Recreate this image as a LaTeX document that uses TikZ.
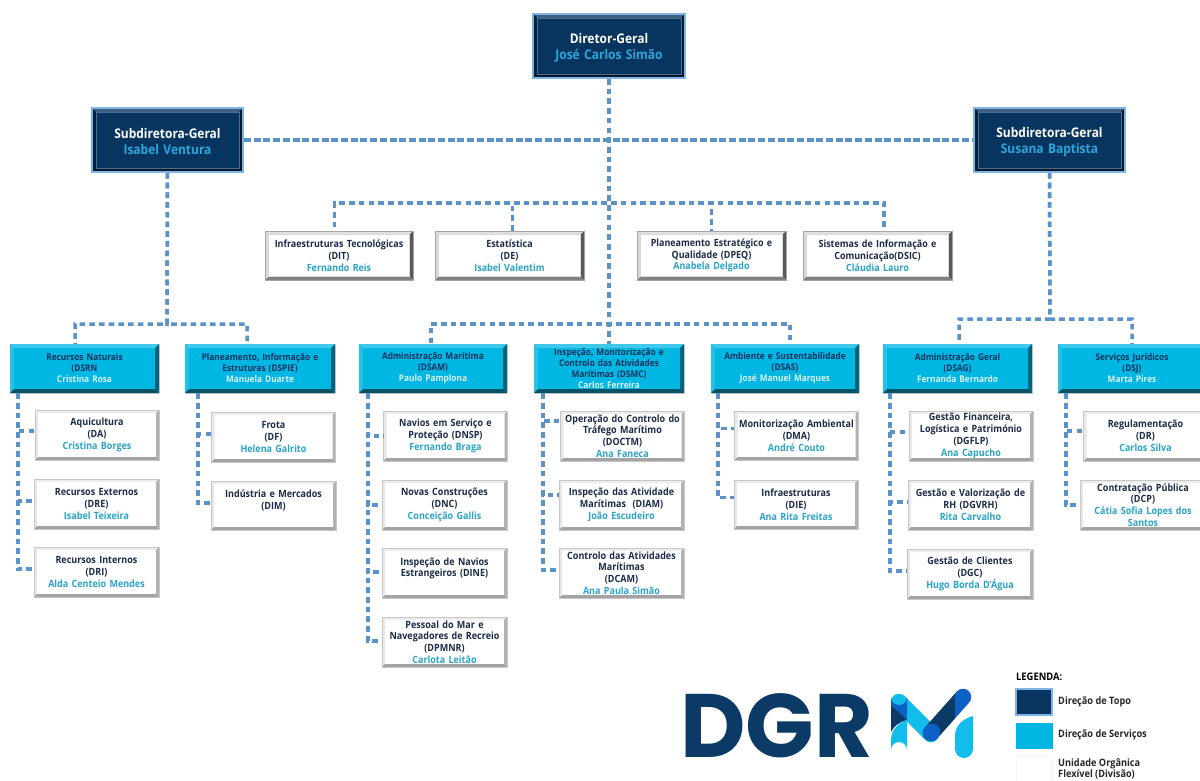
\documentclass[tikz,border=0pt]{standalone}
\usepackage{fontspec}
\setmainfont{Open Sans}[FakeStretch=0.9]
\newfontfamily\logofont{Poppins}
\usetikzlibrary{calc,shadows}
\definecolor{navy}{HTML}{08355F}
\definecolor{navyline}{HTML}{80B4E6}
\definecolor{cyanbox}{HTML}{00B6E3}
\definecolor{connblue}{HTML}{5B93C9}
\definecolor{inktext}{HTML}{1B2B48}
\definecolor{unitname}{HTML}{2AA3C6}
\definecolor{dsname}{HTML}{D8F4FB}
\definecolor{topname}{HTML}{2BA6DC}
\definecolor{logonavy}{HTML}{0B3A66}
\definecolor{logoblue}{HTML}{0B62C4}
\definecolor{logolight}{HTML}{12BDEB}
\newcommand{\bevelpic}[5]{%
  \coordinate (BA) at (path picture bounding box.north west);
  \coordinate (BB) at (path picture bounding box.north east);
  \coordinate (BC) at (path picture bounding box.south east);
  \coordinate (BD) at (path picture bounding box.south west);
  \coordinate (Ba) at ($(BA)+(#1,#1)$);
  \coordinate (Bb) at ($(BB)+(-#1,#1)$);
  \coordinate (Bc) at ($(BC)+(-#1,-#1)$);
  \coordinate (Bd) at ($(BD)+(#1,-#1)$);
  \fill[#2] (BA)--(BB)--(Bb)--(Ba)--cycle;
  \fill[#3] (BA)--(BD)--(Bd)--(Ba)--cycle;
  \fill[#4] (BB)--(BC)--(Bc)--(Bb)--cycle;
  \fill[#5] (BD)--(BC)--(Bc)--(Bd)--cycle;
}
\tikzset{
  x=1pt,y=-1pt,
  boxbase/.style={inner sep=0pt,align=center,text width=132pt},
  topbox/.style={boxbase,fill=navy,draw=navyline,line width=2pt,text=white,
    font=\fontsize{13.3}{16}\selectfont\bfseries,
    path picture={\bevelpic{4}{navy!78!white}{navy!60!black}{navy!45!black}{navy!45!black}
      \draw[navy!72!white,line width=.6pt] (Ba) rectangle (Bc);}},
  dsbox/.style={boxbase,fill=cyanbox,text=navy,
    font=\fontsize{9.2}{11}\selectfont\bfseries,
    drop shadow={shadow xshift=.8pt,shadow yshift=-.8pt,opacity=.35},
    path picture={\bevelpic{4}{cyanbox!75!white}{cyanbox!85!white}{cyanbox!55!black}{cyanbox!45!black}}},
  unitbox/.style={boxbase,text width=124pt,fill=white,draw=black!22,line width=.5pt,text=inktext,
    font=\fontsize{10}{11.8}\selectfont\bfseries,
    drop shadow={shadow xshift=.8pt,shadow yshift=-.8pt,opacity=.35},
    path picture={\bevelpic{3}{black!7}{black!9}{black!30}{black!36}}},
  staffbox/.style={boxbase,text width=146pt,fill=white,draw=black!35,line width=.5pt,text=inktext,
    font=\fontsize{9.95}{11.8}\selectfont\bfseries,
    path picture={\bevelpic{3.5}{black!12}{black!15}{black!65}{black!50}
      \draw[black!15,line width=.5pt] (Ba) rectangle (Bc);}},
  conn/.style={draw=connblue,line width=3.5pt,dash pattern=on 5.6pt off 4.1pt},
  connh/.style={conn,dash pattern=on 7pt off 2.7pt},
  legendtext/.style={inner sep=0pt,anchor=west,align=left,text=black!85,
    font=\fontsize{10.2}{11.2}\selectfont\bfseries},
}
\newcommand{\bx}[7][]{\node[#7,minimum width={(#4-#2)*1pt},minimum height={(#5-#3)*1pt},#1] (#6) at ({(#2+#4)/2},{(#3+#5)/2})}
\newcommand{\tl}{\rule{0pt}{13.5pt}}
\newcommand{\tn}[1]{\textcolor{topname}{#1}}
\newcommand{\dn}[1]{\textcolor{dsname}{#1}}
\newcommand{\un}[1]{\textcolor{unitname}{#1}}
\begin{document}
\begin{tikzpicture}
\useasboundingbox (0,0) rectangle (1200,780);
\clip (0,0) rectangle (1200,780);
\fill[white] (0,0) rectangle (1200,780);

\coordinate (busA) at (609,203);
\coordinate (busB) at (609,324);
\coordinate (busL) at (167,324);
\coordinate (busR) at (1050,319);

% nodes
\bx{533}{14}{685}{78}{dg}{topbox} {\tl Diretor-Geral\\\tn{José Carlos Simão}};
\bx{92}{108}{243}{172}{subl}{topbox} {\tl Subdiretora-Geral\\\tn{Isabel Ventura}};
\bx{974}{108}{1125}{172}{subr}{topbox} {\tl Subdiretora-Geral\\\tn{Susana Baptista}};

\bx{265}{231}{413}{280}{dit}{staffbox} {Infraestruturas Tecnológicas\\(DIT)\\\un{Fernando Reis}};
\bx{435}{231}{584}{280}{de}{staffbox} {Estatística\\(DE)\\\un{Isabel Valentim}};
\bx{637}{231}{786}{280}{dpeq}{staffbox} {Planeamento Estratégico e\\Qualidade (DPEQ)\\\un{Anabela Delgado}};
\bx{803}{231}{952}{280}{dsic}{staffbox} {Sistemas de Informação e\\Comunicação(DSIC)\\\un{Cláudia Lauro}};

\bx{10}{344}{159}{393}{dsrn}{dsbox} {Recursos Naturais\\(DSRN\\\dn{Cristina Rosa}};
\bx{185}{344}{335}{393}{dspie}{dsbox} {Planeamento, Informação e\\Estruturas (DSPIE)\\\dn{Manuela Duarte}};
\bx{359}{344}{507}{393}{dsam}{dsbox} {Administração Marítima\\(DSAM)\\\dn{Paulo Pamplona}};
\bx{534}{344}{684}{393}{dsmc}{dsbox} {Inspeção, Monitorização e\\Controlo das Atividades\\Marítimas (DSMC)\\\dn{Carlos Ferreira}};
\bx{711}{344}{859}{393}{dsas}{dsbox} {Ambiente e Sustentabilidade\\(DSAS)\\\dn{José Manuel Marques}};
\bx{883}{344}{1032}{393}{dsag}{dsbox} {Administração Geral\\(DSAG)\\\dn{Fernanda Bernardo}};
\bx{1058}{344}{1206}{393}{dsj}{dsbox} {Serviços Jurídicos\\(DSJ)\\\dn{Marta Pires}};

\bx{36}{410}{158}{460}{da}{unitbox} {Aquicultura\\(DA)\\\un{Cristina Borges}};
\bx{34}{479}{159}{529}{dre}{unitbox} {Recursos Externos\\(DRE)\\\un{Isabel Teixeira}};
\bx{34}{547}{159}{597}{dri}{unitbox} {Recursos Internos\\(DRI)\\\un{Alda Centeio Mendes}};
\bx{212}{412}{335}{462}{df}{unitbox} {Frota\\(DF)\\\un{Helena Galrito}};
\bx{211}{481}{336}{530}{dim}{unitbox} {Indústria e Mercados\\(DIM)\\\mbox{}};

\bx{384}{411}{507}{461}{dnsp}{unitbox} {Navios em Serviço e\\Proteção (DNSP)\\\un{Fernando Braga}};
\bx{382}{480}{507}{530}{dnc}{unitbox} {Novas Construções\\(DNC)\\\un{Conceição Gallis}};
\bx{382}{548}{507}{598}{dine}{unitbox} {Inspeção de Navios\\Estrangeiros (DINE)\\\mbox{}};
\bx{382}{617}{507}{667}{dpmnr}{unitbox} {Pessoal do Mar e\\Navegadores de Recreio\\(DPMNR)\\\un{Carlota Leitão}};

\bx{561}{411}{684}{461}{doctm}{unitbox} {Operação do Controlo do\\Tráfego Marítimo\\(DOCTM)\\\un{Ana Faneca}};
\bx{559}{480}{684}{530}{diam}{unitbox} {Inspeção das Atividade\\Marítimas\ \ (DIAM)\\\un{João Escudeiro}};
\bx{559}{548}{684}{598}{dcam}{unitbox} {Controlo das Atividades\\Marítimas\\(DCAM)\\\un{Ana Paula Simão}};

\bx{735}{411}{858}{460}{dma}{unitbox} {Monitorização Ambiental\\(DMA)\\\un{André Couto}};
\bx{734}{480}{858}{529}{die}{unitbox} {Infraestruturas\\(DIE)\\\un{Ana Rita Freitas}};

\bx{909}{411}{1033}{461}{dgflp}{unitbox} {Gestão Financeira,\\Logística e Património\\(DGFLP)\\\un{Ana Capucho}};
\bx{908}{480}{1033}{530}{dgvrh}{unitbox} {Gestão e Valorização de\\RH (DGVRH)\\\un{Rita Carvalho}};
\bx{907}{549}{1033}{599}{dgc}{unitbox} {Gestão de Clientes\\(DGC)\\\un{Hugo Borda D'Água}};

\bx{1084}{411}{1207}{461}{dr}{unitbox} {Regulamentação\\(DR)\\\un{Carlos Silva}};
\bx{1080}{480}{1206}{530}{dcp}{unitbox} {Contratação Pública\\(DCP)\\\un{Cátia Sofia Lopes dos}\\\un{Santos}};

% connectors
\draw[conn] (dg.south) -- (dsmc.north);
\draw[connh] (subl.east) -- (subr.west);
\draw[conn] (dg.south) -- (busA) -| ([xshift=-4.5pt]dit.north);
\draw[conn] (dg.south) -- (busA) -| ([xshift=3pt]de.north);
\draw[conn] (dg.south) -- (busA) -| (dpeq.north);
\draw[conn] (dg.south) -- (busA) -| ([xshift=6.5pt]dsic.north);
\draw[conn] (dg.south) -- (busB) -| ([xshift=-2pt]dsam.north);
\draw[conn] (dg.south) -- (busB) -| ([xshift=5pt]dsas.north);
\draw[conn] (subl.south) -- (busL) -| ([xshift=-9.5pt]dsrn.north);
\draw[conn] (subl.south) -- (busL) -| ([xshift=-13pt]dspie.north);
\draw[conn] (subr.south) -- (busR) -| ([xshift=1.5pt]dsag.north);
\draw[conn] (subr.south) -- (busR) -| (dsj.north);

\foreach \dsp/\off/\kid/\up in {dsrn/8/da/4,dsrn/8/dre/3,dsrn/8/dri/3,
  dspie/13/df/3,dspie/13/dim/2.5,
  dsam/9/dnsp/0,dsam/9/dnc/0,dsam/9/dine/1,dsam/9/dpmnr/1,
  dsmc/9/doctm/15,dsmc/9/diam/10,dsmc/9/dcam/3,
  dsas/7/dma/7,dsas/7/die/7,
  dsag/7/dgflp/4,dsag/7/dgvrh/3,dsag/7/dgc/3,
  dsj/8/dr/5,dsj/8/dcp/0}{
  \draw[conn] ([xshift=\off pt]\dsp.south west) |- ([yshift=\up pt]\kid.west);
}

% logo
\node[inner sep=0pt,anchor=base west,text=logonavy,
  font=\fontsize{90}{90}\logofont\bfseries] (logotext) at (680,757) {DGR};
\draw[logolight,line width=16.5pt,line cap=round] (899,702) -- (931,734);
\begin{scope}
  \clip (880,680) rectangle (955,770);
  \draw[logonavy,line width=16.5pt,line cap=round] (963,697) -- (931,733);
\end{scope}
\begin{scope}
  \clip (955,680) rectangle (980,770);
  \draw[logoblue,line width=16.5pt,line cap=round] (963,697) -- (931,733);
\end{scope}
\draw[logoblue,line width=16.5pt,line cap=round] (931,733) -- (932,732);
\fill[logoblue] (891,697) arc[start angle=180,end angle=0,radius=8] -- (907,720) -- (891,705) -- cycle;
\fill[logonavy] (891,705) -- (907,720) .. controls (899,722) and (894,726) .. (891,732) -- cycle;
\fill[logolight] (907,720) .. controls (899,722) and (891,730) .. (891,740) -- (891,750)
  arc[start angle=180,end angle=360,radius=8] -- cycle;
\fill[logolight] (955,736) .. controls (955,726) and (962,719) .. (973,716) -- (973,749)
  arc[start angle=0,end angle=180,radius=9] -- cycle;

% legend
\node[inner sep=0pt,anchor=west,text=black,font=\fontsize{10.4}{10}\selectfont\bfseries] (legtitle) at (1016,677) {LEGENDA:};
\node[fill=navy,draw=navyline,line width=1.2pt,minimum width=36pt,minimum height=26pt,inner sep=0pt] (legtop) at (1034,702) {};
\node[fill=cyanbox,minimum width=37pt,minimum height=26pt,inner sep=0pt] (legserv) at (1034,736) {};
\node[legendtext] (legtoptext) at (1058,702) {Direção de Topo};
\node[legendtext] (legservtext) at (1058,735) {Direção de Serviços};
\node[legendtext] (legunittext) at (1058,768.5) {Unidade Orgânica\\Flexível (Divisão)};
\node[draw=black!4,fill=white,line width=.8pt,minimum width=36pt,minimum height=30pt,inner sep=0pt] (legunit) at (1034,771) {};
\end{tikzpicture}
\end{document}
